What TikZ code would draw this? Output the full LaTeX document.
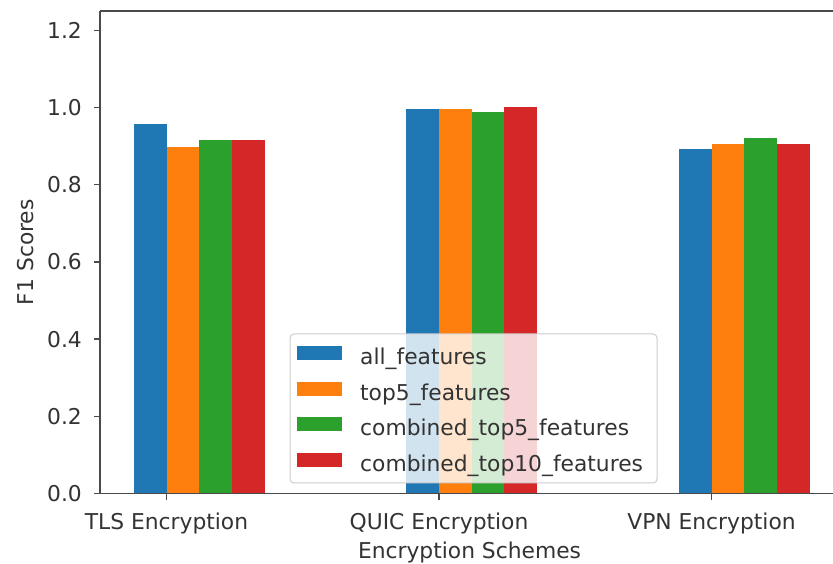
\documentclass[tikz,border=0pt]{standalone}
\usepackage{fontspec}
\setmainfont{DejaVu Sans}

\definecolor{tabblue}{HTML}{1F77B4}
\definecolor{taborange}{HTML}{FF7F0E}
\definecolor{tabgreen}{HTML}{2CA02C}
\definecolor{tabred}{HTML}{D62728}
\definecolor{spinegray}{HTML}{4A4A4A}
\definecolor{textgray}{HTML}{333333}

\tikzset{
  ticklab/.style={font=\fontsize{21.8}{26}\selectfont, text=textgray, inner sep=0pt},
  spine/.style={draw=spinegray, line width=1.6pt},
  tickmark/.style={draw=spinegray, line width=1.4pt},
  legbox/.style={draw=black!20, fill=white, fill opacity=0.8, rounded corners=4pt, line width=1pt},
}

\begin{document}
\begin{tikzpicture}[x=1pt,y=1pt]
    % Page, same size as the screenshot
    \useasboundingbox (0,0) rectangle (833,564);
    \clip (0,0) rectangle (833,564);
    \fill[white] (0,0) rectangle (833,564);

    \begin{scope}[xshift=166.5pt, yshift=70.5pt, x=272.5pt, y=386pt]
        % Axes corners (right spine is cut off)
        \coordinate (O)  at (-0.244,0);
        \coordinate (R)  at (2.47,0);
        \coordinate (T)  at (-0.244,1.25);
        \coordinate (TR) at (2.47,1.25);

        % TLS bars
        \fill[tabblue]   (-0.12,0) rectangle (0.00,0.956);
        \fill[taborange] (0.00,0)  rectangle (0.12,0.898);
        \fill[tabgreen]  (0.12,0)  rectangle (0.24,0.915);
        \fill[tabred]    (0.24,0)  rectangle (0.36,0.915);

        % QUIC bars
        \fill[tabblue]   (0.88,0) rectangle (1.00,0.995);
        \fill[taborange] (1.00,0) rectangle (1.12,0.995);
        \fill[tabgreen]  (1.12,0) rectangle (1.24,0.989);
        \fill[tabred]    (1.24,0) rectangle (1.36,1.001);

        % VPN bars
        \fill[tabblue]   (1.88,0) rectangle (2.00,0.892);
        \fill[taborange] (2.00,0) rectangle (2.12,0.905);
        \fill[tabgreen]  (2.12,0) rectangle (2.24,0.922);
        \fill[tabred]    (2.24,0) rectangle (2.36,0.905);

        % Spines
        \draw[spine] (T) -- (O) -- (R);
        \draw[spine] (T) -- (TR);

        % y ticks and their labels
        \draw[tickmark] (-0.244,0.0) -- ++(-6pt,0);
        \draw[tickmark] (-0.244,0.2) -- ++(-6pt,0);
        \draw[tickmark] (-0.244,0.4) -- ++(-6pt,0);
        \draw[tickmark] (-0.244,0.6) -- ++(-6pt,0);
        \draw[tickmark] (-0.244,0.8) -- ++(-6pt,0);
        \draw[tickmark] (-0.244,1.0) -- ++(-6pt,0);
        \draw[tickmark] (-0.244,1.2) -- ++(-6pt,0);
        \node[ticklab, anchor=east] (y00) at ([xshift=-18pt]-0.244,0.0) {0.0};
        \node[ticklab, anchor=east] (y02) at ([xshift=-18pt]-0.244,0.2) {0.2};
        \node[ticklab, anchor=east] (y04) at ([xshift=-18pt]-0.244,0.4) {0.4};
        \node[ticklab, anchor=east] (y06) at ([xshift=-18pt]-0.244,0.6) {0.6};
        \node[ticklab, anchor=east] (y08) at ([xshift=-18pt]-0.244,0.8) {0.8};
        \node[ticklab, anchor=east] (y10) at ([xshift=-18pt]-0.244,1.0) {1.0};
        \node[ticklab, anchor=east] (y12) at ([xshift=-18pt]-0.244,1.2) {1.2};

        % x ticks and their labels
        \draw[tickmark] (0,0) -- ++(0,-6.5pt);
        \draw[tickmark] (1,0) -- ++(0,-6.5pt);
        \draw[tickmark] (2,0) -- ++(0,-6.5pt);
        \node[ticklab, anchor=base] (tls)  at ([yshift=-36pt]0,0) {TLS Encryption};
        \node[ticklab, anchor=base] (quic) at ([yshift=-36pt]1,0) {QUIC Encryption};
        \node[ticklab, anchor=base] (vpn)  at ([yshift=-36pt]2,0) {VPN Encryption};

        % Axis titles
        \node[ticklab, anchor=base] (xtitle) at ([yshift=-64.8pt]1.112,0) {Encryption Schemes};
        \node[ticklab, rotate=90] (ytitle) at (-0.519,0.625) {F1 Scores};
    \end{scope}

    % Legend
    \draw[legbox] (290,81) rectangle (657,230);
    \fill[tabblue]   (297,203.5) rectangle (342,217.5);
    \fill[taborange] (297,168)   rectangle (342,182);
    \fill[tabgreen]  (297,132.5) rectangle (342,146.5);
    \fill[tabred]    (297,97)    rectangle (342,111);
    \node[ticklab, anchor=base west] (legall)  at (360,199)   {all\_features};
    \node[ticklab, anchor=base west] (legtop5) at (360,163.5) {top5\_features};
    \node[ticklab, anchor=base west] (legc5)   at (360,128)   {combined\_top5\_features};
    \node[ticklab, anchor=base west] (legc10)  at (360,92.5)  {combined\_top10\_features};
\end{tikzpicture}
\end{document}
